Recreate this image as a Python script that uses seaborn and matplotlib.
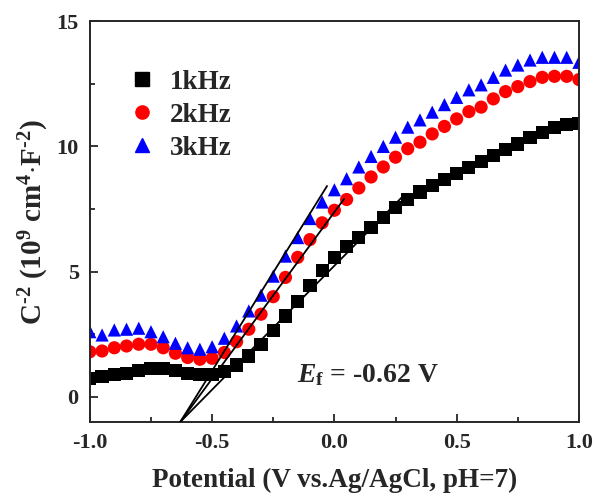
import numpy as np
import pandas as pd
import matplotlib
matplotlib.use('Agg')
import matplotlib.pyplot as plt
from matplotlib.lines import Line2D
from matplotlib.ticker import MultipleLocator
import seaborn as sns

# Potential (V vs. Ag/AgCl)
potential = [-1.0, -0.95, -0.9, -0.85, -0.8, -0.75, -0.7, -0.65, -0.6, -0.55,
             -0.5, -0.45, -0.4, -0.35, -0.3, -0.25, -0.2, -0.15, -0.1, -0.05,
             0.0, 0.05, 0.1, 0.15, 0.2, 0.25, 0.3, 0.35, 0.4, 0.45,
             0.5, 0.55, 0.6, 0.65, 0.7, 0.75, 0.8, 0.85, 0.9, 0.95, 1.0]

# C^-2 (10^9 cm^4 F^-2)
c_1khz = [0.74, 0.81, 0.88, 0.94, 1.05, 1.14, 1.14, 1.05, 0.94, 0.88,
          0.90, 1.00, 1.27, 1.63, 2.10, 2.64, 3.23, 3.82, 4.46, 5.06,
          5.57, 5.99, 6.36, 6.75, 7.16, 7.56, 7.89, 8.18, 8.45, 8.67,
          8.91, 9.15, 9.40, 9.64, 9.87, 10.10, 10.37, 10.57, 10.77, 10.86, 10.93]
c_2khz = [1.80, 1.83, 1.96, 2.03, 2.10, 2.10, 1.96, 1.74, 1.57, 1.50,
          1.54, 1.77, 2.20, 2.70, 3.30, 4.00, 4.77, 5.57, 6.28, 6.95,
          7.45, 7.88, 8.34, 8.78, 9.18, 9.57, 9.91, 10.17, 10.50, 10.80,
          11.10, 11.39, 11.57, 11.90, 12.19, 12.39, 12.59, 12.76, 12.80, 12.80, 12.67]
c_3khz = [2.60, 2.47, 2.67, 2.70, 2.74, 2.60, 2.40, 2.14, 1.96, 1.90,
          2.00, 2.34, 2.83, 3.43, 4.06, 4.82, 5.62, 6.36, 7.12, 7.78,
          8.27, 8.71, 9.18, 9.60, 10.00, 10.37, 10.77, 11.06, 11.37, 11.67,
          11.96, 12.26, 12.46, 12.76, 13.05, 13.25, 13.45, 13.56, 13.56, 13.56, 13.36]

freqs = ['1kHz', '2kHz', '3kHz']

# Mott-Schottky linear fits (start at bottom of axis, slope, end potential)
fit_x_start = -0.63
fit_y_start = -1.0
fit_slope = [9.9, 13.3, 15.7]
fit_x_end = [0.28, 0.04, -0.03]

df = pd.DataFrame({
    'E': potential * 3,
    'C': c_1khz + c_2khz + c_3khz,
    'freq': [f for f in freqs for _ in potential],
})

sns.set_style('ticks')
plt.rcParams['font.family'] = ['Liberation Serif', 'DejaVu Serif']
plt.rcParams['font.weight'] = 'bold'
plt.rcParams['axes.unicode_minus'] = False
plt.rcParams['mathtext.fontset'] = 'custom'
plt.rcParams['mathtext.rm'] = 'Liberation Serif:bold'
plt.rcParams['mathtext.bf'] = 'Liberation Serif:bold'
plt.rcParams['mathtext.it'] = 'Liberation Serif:bold:italic'

palette = {'1kHz': 'black', '2kHz': 'red', '3kHz': 'blue'}
markers = {'1kHz': 's', '2kHz': 'o', '3kHz': '^'}

fig = plt.figure(figsize=(5.95, 4.94), dpi=100)
ax = fig.add_axes([0.151, 0.146, 0.822, 0.811])

sns.scatterplot(data=df, x='E', y='C', hue='freq', style='freq',
                palette=palette, markers=markers, s=90, linewidth=0,
                legend=False, ax=ax, zorder=2)

for slope, xe in zip(fit_slope, fit_x_end):
    xs = np.array([fit_x_start, xe])
    ax.plot(xs, fit_y_start + slope * (xs - fit_x_start), color='black', lw=1.3, zorder=3)

ax.set_xlim(-1.0, 1.0)
ax.set_ylim(-1, 15)
ax.xaxis.set_major_locator(MultipleLocator(0.5))
ax.xaxis.set_minor_locator(MultipleLocator(0.25))
ax.yaxis.set_major_locator(MultipleLocator(5))
ax.yaxis.set_minor_locator(MultipleLocator(2.5))
ax.tick_params(which='both', direction='in', width=1.3)
ax.tick_params(which='major', length=6, labelsize=16, pad=8)
ax.tick_params(which='minor', length=3.5)
for lab in ax.get_xticklabels() + ax.get_yticklabels():
    lab.set_fontweight('bold')
for sp in ax.spines.values():
    sp.set_linewidth(1.4)
    sp.set_visible(True)

ax.set_xlabel('Potential (V vs.Ag/AgCl, pH=7)', fontsize=19.5, fontweight='bold', labelpad=11)
ax.set_ylabel(r'C$^{\text{-}2}$ (10$^{9}$ cm$^{4}$$\cdot$F$^{\text{-}2}$)', fontsize=21,
              fontweight='bold', labelpad=4)

ax.text(0.424, 0.1, r'$E$$_{\rm f}$ = -0.62 V', transform=ax.transAxes,
        fontsize=20, fontweight='bold')

handles = [Line2D([], [], ls='none', marker=markers[f], color=palette[f],
                  markersize=9.5, label=f) for f in freqs]
ax.legend(handles=handles, loc='upper left', bbox_to_anchor=(0.03, 0.94),
          frameon=False, fontsize=19.5, handletextpad=0.5, labelspacing=0.3,
          handlelength=1.0)

fig.savefig('out.png', dpi=100)
